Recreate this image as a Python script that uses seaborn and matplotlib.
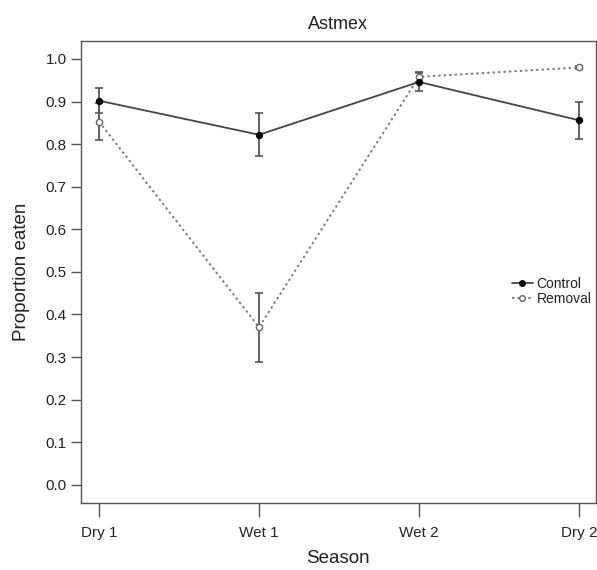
import pandas as pd
import numpy as np
import matplotlib.pyplot as plt
import seaborn as sns
from matplotlib.lines import Line2D

seasons = ['Dry 1', 'Wet 1', 'Wet 2', 'Dry 2']
control = [0.902, 0.822, 0.946, 0.856]
control_se = [0.030, 0.051, 0.021, 0.043]
removal = [0.853, 0.370, 0.958, 0.980]
removal_se = [0.044, 0.081, 0.012, 0.004]

df = pd.DataFrame({
    'Season': seasons * 2,
    'Proportion': control + removal,
    'se': control_se + removal_se,
    'Treatment': ['Control'] * 4 + ['Removal'] * 4,
})

sns.set_style('ticks')
plt.rcParams['font.family'] = ['Liberation Sans', 'DejaVu Sans']

fig = plt.figure(figsize=(5.97, 5.70), dpi=100)
ax = fig.add_axes([0.135, 0.118, 0.863, 0.810])

ctl = df[df.Treatment == 'Control']
rem = df[df.Treatment == 'Removal']

# error bars first
ax.errorbar(rem.Season, rem.Proportion, yerr=rem.se, fmt='none',
            ecolor='#555555', elinewidth=1.3, capsize=3, capthick=1.2, zorder=2)
ax.errorbar(ctl.Season, ctl.Proportion, yerr=ctl.se, fmt='none',
            ecolor='#555555', elinewidth=1.3, capsize=3, capthick=1.2, zorder=2)

sns.lineplot(data=rem, x='Season', y='Proportion', ax=ax, color='#7a7a7a',
             linestyle=(0, (1.2, 1.6)), linewidth=1.4, marker='o', markersize=4.5,
             markerfacecolor='white', markeredgecolor='#666666', markeredgewidth=1.0,
             zorder=3)
sns.lineplot(data=ctl, x='Season', y='Proportion', ax=ax, color='#444444',
             linewidth=1.3, marker='o', markersize=4.5, markerfacecolor='black',
             markeredgecolor='black', zorder=4)

ax.set_xlim(-0.115, 3.105)
ax.set_ylim(-0.042, 1.042)
ax.set_yticks(np.arange(0, 1.01, 0.1))
ax.set_yticklabels([f'{v:.1f}' for v in np.arange(0, 1.01, 0.1)])

for s in ax.spines.values():
    s.set_visible(True)
    s.set_color('#555555')
    s.set_linewidth(1.0)
ax.tick_params(axis='both', width=1.0, color='#555555',
               labelsize=11, labelcolor='#222222')
ax.tick_params(axis='x', length=10, pad=7)
ax.tick_params(axis='y', length=7, pad=3)

ax.set_xlabel('Season', fontsize=13.5, color='#222222', labelpad=7)
ax.set_ylabel('Proportion eaten', fontsize=13.5, color='#222222', labelpad=11)
ax.set_title('Astmex', fontsize=13, color='#222222', pad=9)

handles = [
    Line2D([], [], color='#444444', linewidth=1.3, marker='o', markersize=4,
           markerfacecolor='black', markeredgecolor='black'),
    Line2D([], [], color='#7a7a7a', linestyle=(0, (1.2, 1.6)), linewidth=1.4,
           marker='o', markersize=4, markerfacecolor='white',
           markeredgecolor='#666666'),
]
ax.legend(handles, ['Control', 'Removal'], loc='center left',
          bbox_to_anchor=(0.826, 0.458), frameon=False, fontsize=10,
          handlelength=1.5, handletextpad=0.3, labelspacing=0.05,
          borderaxespad=0, labelcolor='#222222')

fig.savefig('out.png', dpi=100)
